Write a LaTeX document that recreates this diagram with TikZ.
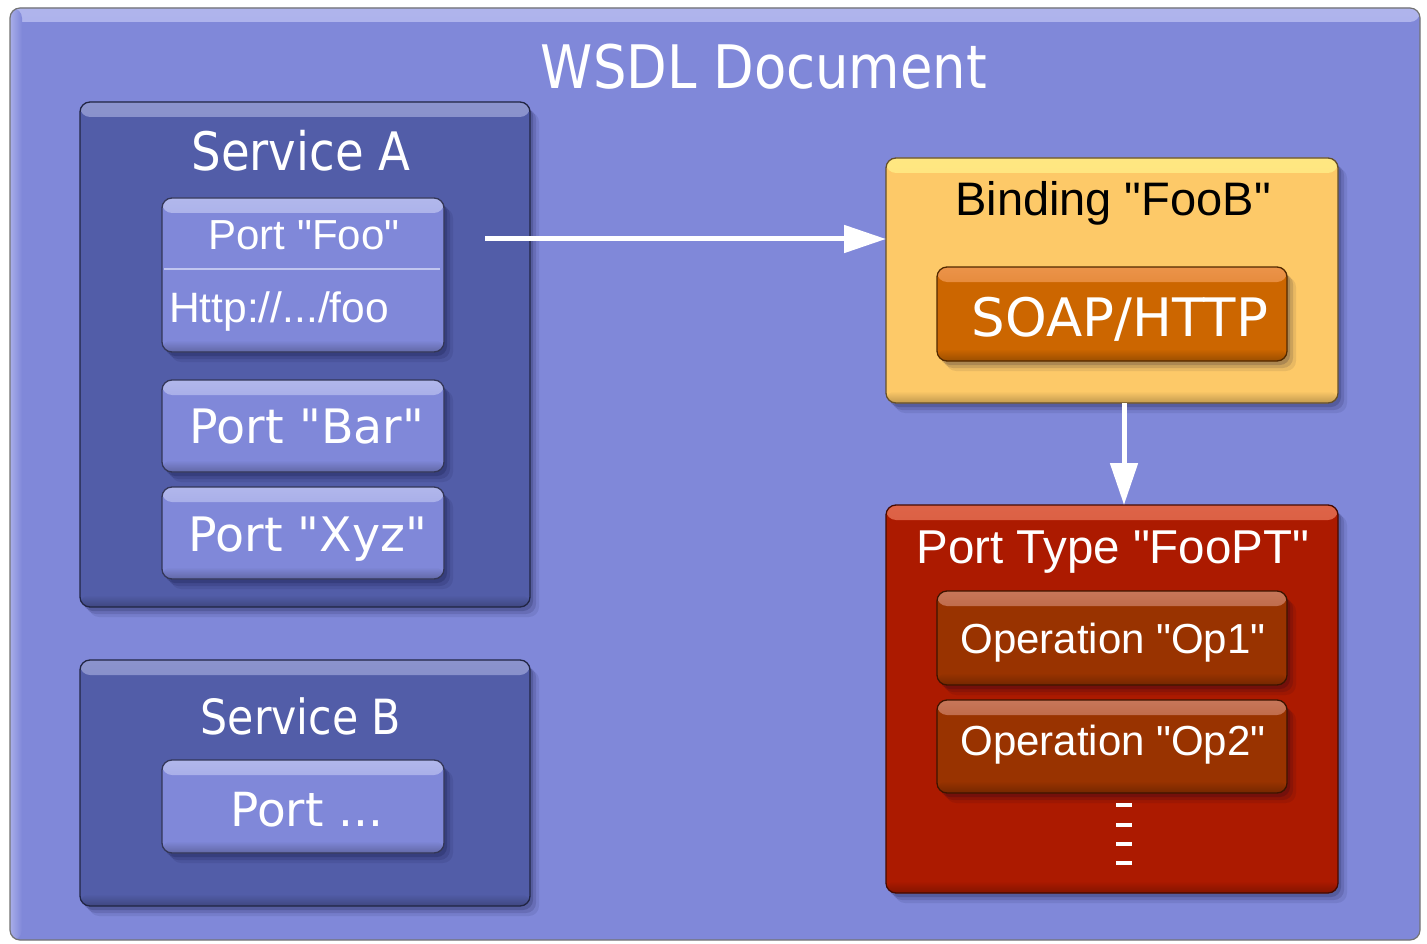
\documentclass[tikz,border=0pt]{standalone}
\usepackage{fontspec}
\newfontfamily\dv{DejaVu Sans}
\newfontfamily\dvc[FakeStretch=0.88]{DejaVu Sans}
\newfontfamily\lib{Liberation Sans}
\usetikzlibrary{arrows.meta,shadows}
\definecolor{docbg}{RGB}{128,136,217}
\definecolor{doclight}{RGB}{175,180,236}
\definecolor{svcfill}{RGB}{82,93,168}
\definecolor{svclight}{RGB}{140,148,205}
\definecolor{portfill}{RGB}{128,136,217}
\definecolor{portlight}{RGB}{178,184,236}
\definecolor{bindfill}{RGB}{253,201,104}
\definecolor{bindlight}{RGB}{255,232,130}
\definecolor{soapfill}{RGB}{204,102,0}
\definecolor{soaplight}{RGB}{236,148,75}
\definecolor{ptfill}{RGB}{172,26,0}
\definecolor{ptlight}{RGB}{222,100,72}
\definecolor{opfill}{RGB}{153,51,0}
\definecolor{oplight}{RGB}{200,120,92}
\tikzset{
  gbox/.style 2 args={rectangle, rounded corners=10pt, fill=#1, draw=#1!40!black,
    line width=1.3pt, inner sep=0pt, outer sep=0pt, anchor=north west,
    general shadow={shadow xshift=3pt, shadow yshift=-4pt, opacity=0.16, fill=black!85!blue},
    general shadow={shadow xshift=6pt, shadow yshift=-7pt, opacity=0.12, fill=black!85!blue},
    general shadow={shadow xshift=9pt, shadow yshift=-10pt, opacity=0.08, fill=black!85!blue},
    path picture={
      \shade[top color=#2, bottom color=#1]
        ([yshift=2pt]path picture bounding box.north west) rectangle
        ([yshift=-15pt]path picture bounding box.north east);
      \shade[top color=#1, bottom color=#1!72!black]
        ([yshift=12pt]path picture bounding box.south west) rectangle
        ([yshift=-2pt]path picture bounding box.south east);
    }},
  docbox/.style={rectangle, rounded corners=10pt, fill=docbg, draw=black!55,
    line width=1.2pt, inner sep=0pt, outer sep=0pt, anchor=north west,
    path picture={
      \shade[top color=doclight, bottom color=docbg]
        ([yshift=2pt]path picture bounding box.north west) rectangle
        ([yshift=-14pt]path picture bounding box.north east);
      \shade[left color=doclight, right color=docbg]
        ([xshift=-2pt]path picture bounding box.north west) rectangle
        ([xshift=12pt]path picture bounding box.south west);
    }},
  wtxt/.style={text=white, inner sep=0pt, anchor=base},
  btxt/.style={text=black, inner sep=0pt, anchor=base},
  arr/.style={draw=white, line width=5pt, -{Triangle[length=42pt,width=27pt]}}
}
\begin{document}
\begin{tikzpicture}[x=1pt,y=-1pt]
\useasboundingbox (0,0) rectangle (1427,944);
\clip (0,0) rectangle (1427,944);
\fill[white] (0,0) rectangle (1427,944);
% document
\node[docbox, minimum width=1410pt, minimum height=932pt] (doc) at (10,8) {};
\node[wtxt] (doctitle) at (764,89) {\dvc\fontsize{60}{70}\selectfont WSDL Document};
% Service A
\node[gbox={svcfill}{svclight}, minimum width=450pt, minimum height=505pt] (svca) at (80,102) {};
\node[wtxt] (svcat) at (301,171) {\dvc\fontsize{53}{60}\selectfont Service A};
\node[gbox={portfill}{portlight}, minimum width=282pt, minimum height=154pt] (foo) at (162,198) {};
\node[wtxt] (foot) at (304,249) {\lib\fontsize{42}{50}\selectfont Port "Foo"};
\draw[portlight!80!white, line width=1.2pt] (164,269) -- (440,269);
\node[wtxt, anchor=base west] (http) at (169,322) {\lib\fontsize{42.5}{50}\selectfont Http://.../foo};
\node[gbox={portfill}{portlight}, minimum width=282pt, minimum height=92pt] (bar) at (162,380) {};
\node[wtxt] (bart) at (307,443) {\dv\fontsize{47.5}{54}\selectfont Port "Bar"};
\node[gbox={portfill}{portlight}, minimum width=282pt, minimum height=92pt] (xyz) at (162,487) {};
\node[wtxt] (xyzt) at (308,551) {\dv\fontsize{47.5}{54}\selectfont Port "Xyz"};
% Service B
\node[gbox={svcfill}{svclight}, minimum width=450pt, minimum height=246pt] (svcb) at (80,660) {};
\node[wtxt] (svcbt) at (301,734) {\dvc\fontsize{48.5}{55}\selectfont Service B};
\node[gbox={portfill}{portlight}, minimum width=282pt, minimum height=93pt] (portx) at (162,760) {};
\node[wtxt] (portxt) at (307,826) {\dv\fontsize{47}{54}\selectfont Port ...};
% Binding
\node[gbox={bindfill}{bindlight}, minimum width=452pt, minimum height=245pt] (bind) at (886,158) {};
\node[btxt] (bindt) at (1113,215) {\lib\fontsize{47}{54}\selectfont Binding "FooB"};
\node[gbox={soapfill}{soaplight}, minimum width=350pt, minimum height=94pt] (soap) at (937,267) {};
\node[wtxt] (soapt) at (1120,336) {\dv\fontsize{53}{60}\selectfont SOAP/HTTP};
% Port type
\node[gbox={ptfill}{ptlight}, minimum width=452pt, minimum height=388pt] (pt) at (886,505) {};
\node[wtxt] (ptt) at (1113,563) {\lib\fontsize{47.5}{54}\selectfont Port Type "FooPT"};
\node[gbox={opfill}{oplight}, minimum width=350pt, minimum height=94pt] (op1) at (937,591) {};
\node[wtxt] (op1t) at (1113,653) {\lib\fontsize{42}{50}\selectfont Operation "Op1"};
\node[gbox={opfill}{oplight}, minimum width=350pt, minimum height=93pt] (op2) at (937,700) {};
\node[wtxt] (op2t) at (1113,755) {\lib\fontsize{42}{50}\selectfont Operation "Op2"};
\foreach \yy in {805,825,844,863}
  \fill[white] (1116,\yy-2) rectangle (1132,\yy+2);
% connectors
\coordinate (a1) at (485,239);
\coordinate (a2) at (1124,0);
\draw[arr] (a1) -- (a1 -| bind.west);
\draw[arr] (bind.south -| a2) -- (pt.north -| a2);
\end{tikzpicture}
\end{document}
